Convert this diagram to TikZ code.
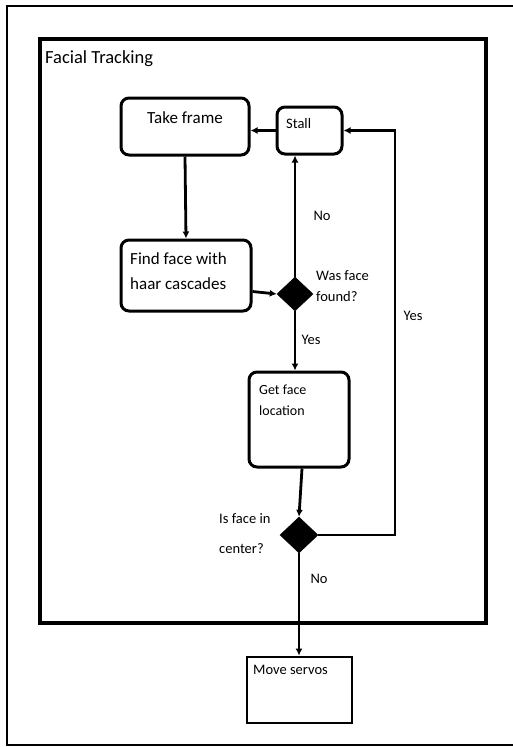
\documentclass[tikz,border=0pt]{standalone}
\usepackage{fontspec}
\setmainfont{Carlito}
\usepackage{tikz}
\usetikzlibrary{shapes.geometric, arrows.meta, positioning, calc}

\tikzset{
    stepbox/.style={draw, line width=3pt, rounded corners=8pt, inner sep=0pt},
    plainbox/.style={draw, line width=2.8pt, inner sep=0pt},
    decision/.style={diamond, fill=black, draw, line width=0.5pt, inner sep=0pt},
    flow/.style={-{Latex[length=7pt,width=7pt]}, line width=2.8pt},
    txt/.style={inner sep=0pt, align=left, font=\fontsize{14.5}{21}\selectfont}
}

\begin{document}
\begin{tikzpicture}[x=1pt, y=-1pt]
                \useasboundingbox (0,0) rectangle (513,747);

                % outer frame
                \draw[line width=2pt] (7,6) rectangle (520,745);

                % inner frame (Facial Tracking)
                \draw[line width=4.5pt] (40,39) rectangle (486,623);
                \node[txt, anchor=north west, font=\fontsize{18.5}{22}\selectfont] (title) at (45,50) {Facial Tracking};

                % steps
                \node[stepbox, minimum width=128pt, minimum height=57pt] (take) at (185,126.5) {};
                \node[txt, anchor=north, font=\fontsize{17}{25}\selectfont] (taketxt) at (185,111) {Take frame};

                \node[stepbox, minimum width=65pt, minimum height=47pt] (stall) at (309.5,130.5) {};
                \node[txt, anchor=north west] (stalltxt) at (286,118) {Stall};

                \node[stepbox, minimum width=130pt, minimum height=71pt] (find) at (186,275.5) {};
                \node[txt, anchor=north west, font=\fontsize{17}{25}\selectfont] (findtxt) at (130,252) {Find face with\\haar cascades};

                \node[stepbox, minimum width=100pt, minimum height=95pt] (loc) at (299,419.5) {};
                \node[txt, anchor=north west, font=\fontsize{14}{21}\selectfont] (loctxt) at (259,385) {Get face\\location};

                \node[plainbox, minimum width=105pt, minimum height=66pt] (move) at (299.5,690) {};
                \node[txt, anchor=north west] (movetxt) at (253,665) {Move servos};

                % decisions
                \node[decision, minimum width=36pt, minimum height=34pt] (found) at (295,294) {};
                \node[txt, anchor=north west] (foundtxt) at (316,270) {Was face\\found?};

                \node[decision, minimum width=38pt, minimum height=36pt] (center) at (299,535) {};
                \node[txt, anchor=north west, font=\fontsize{14.5}{30}\selectfont] (centertxt) at (219,513) {Is face in\\center?};

                % labels on the branches
                \node[txt] (no1) at (322,216) {No};
                \node[txt] (yes1) at (311,340) {Yes};
                \node[txt] (yes2) at (413,316) {Yes};
                \node[txt] (no2) at (319,579) {No};

                % connectors
                \draw[flow] (stall.west) -- (take.east |- stall.west);
                \draw[flow] (take.south) -- (find.north);
                \draw[flow] ($(find.east)+(0,16)$) -- (found.west);
                \draw[flow] (found.north) -- (found.north |- stall.south);
                \draw[flow] (found.south) -- (found.south |- loc.north);
                \draw[flow] ($(loc.south)+(3,0)$) -- (center.north);
                \coordinate (turn) at (395,535);
                \draw[flow] (center.east) -- (turn) -- (turn |- stall.east) -- (stall.east);
                \draw[flow] (center.south) -- (center.south |- move.north);
\end{tikzpicture}
\end{document}
